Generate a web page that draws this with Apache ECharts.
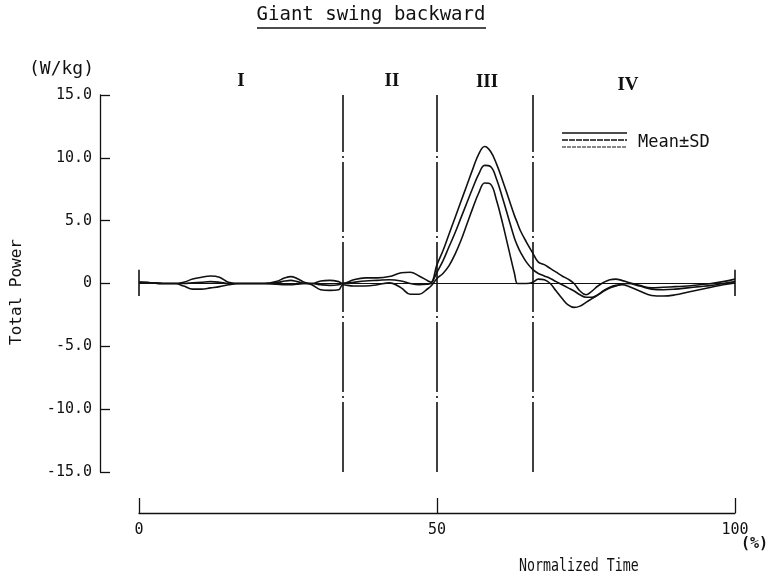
<!DOCTYPE html>
<html>
<head>
<meta charset="utf-8">
<script src="https://cdn.jsdelivr.net/npm/echarts@6/dist/echarts.min.js"></script>
<style>
html,body{margin:0;padding:0;background:#fff;}
#chart{width:784px;height:582px;}
</style>
</head>
<body>
<div id="chart"></div>
<script>
// Normalized time (%)
const timePct = [0,2,4,6,7.5,9,10.5,12,13.5,15,17,19,21,23,24.5,25.5,26.5,28,29,30.5,32,33.5,34.2,
  36,38,40,42,44,45.5,47,48.5,49,
  50,51,52,53,54,55,56,57,58,59,60,61,62,63,63.5,64,65,66.1,
  67,68,69,70,71,72,73,74,75,76,77,78,79,80,81,82,84,86,88,90,92,94,96,98,100];
// Total power (W/kg)
const meanPower = [0.1,0.05,0,0,0,0.05,0.1,0.15,0.1,0,0,0,0,0.05,0.2,0.25,0.15,0,0,-0.1,-0.15,-0.1,0,
  0.1,0.2,0.25,0.3,0.2,0,-0.1,-0.05,0,
  0.9,1.8,2.9,4.0,5.2,6.4,7.6,8.7,9.4,9.3,8.3,6.8,5.2,3.6,3.0,2.5,1.7,1.1,
  0.8,0.6,0.4,0.15,-0.1,-0.35,-0.6,-0.9,-1.1,-1.1,-0.9,-0.6,-0.35,-0.2,-0.05,0,-0.2,-0.45,-0.5,-0.45,-0.35,-0.25,-0.15,0,0.15];
const meanPlusSD = [0.1,0.05,0,0,0.1,0.35,0.5,0.6,0.5,0.1,0,0,0,0.15,0.45,0.55,0.4,0.05,0,0.2,0.25,0.15,0,
  0.3,0.45,0.45,0.55,0.85,0.9,0.6,0.2,0.1,
  1.5,2.6,3.9,5.2,6.5,7.8,9.1,10.3,10.9,10.5,9.5,8.2,6.8,5.4,4.8,4.2,3.3,2.4,
  1.7,1.5,1.2,0.9,0.6,0.35,0,-0.6,-0.9,-0.6,-0.2,0.1,0.3,0.35,0.25,0.1,-0.15,-0.35,-0.3,-0.25,-0.2,-0.1,0,0.15,0.35];
const meanMinusSD = [0.1,0.05,0,0,-0.2,-0.45,-0.45,-0.35,-0.25,-0.1,0,0,0,-0.05,-0.1,-0.1,-0.05,0,-0.1,-0.5,-0.55,-0.5,-0.1,
  -0.2,-0.2,-0.1,0.05,-0.35,-0.85,-0.85,-0.4,-0.2,
  0.4,0.8,1.4,2.3,3.4,4.7,6.0,7.2,8.0,7.9,6.6,4.8,2.8,0.8,0,0,0,0.1,
  0.35,0.3,0,-0.6,-1.2,-1.7,-1.9,-1.8,-1.5,-1.2,-0.9,-0.55,-0.3,-0.15,-0.1,-0.2,-0.6,-0.95,-1.0,-0.9,-0.7,-0.5,-0.3,-0.1,0.05];
// Phase boundaries (%)
const phaseBounds = [34.2, 50, 66.1];
const phaseNames = ['I','II','III','IV'];
// End markers (%)
const endMarks = [0, 100];
const yTicks = [-15,-10,-5,0,5,10,15];
const xTicks = [0,50,100];

const FONT = '"DejaVu Sans Mono", monospace';
const SERIF = '"Liberation Serif", serif';
const chart = echarts.init(document.getElementById('chart'));

function pairs(vals){ return timePct.map((t,i)=>[t, vals[i]]); }

const lineStyle = {color:'#111', width:1.6};
const series = [
  {name:'Mean+SD', type:'line', data:pairs(meanPlusSD), smooth:0.4, symbol:'none', lineStyle, xAxisIndex:0, yAxisIndex:0, z:3},
  {name:'Mean', type:'line', data:pairs(meanPower), smooth:0.4, symbol:'none', lineStyle, xAxisIndex:0, yAxisIndex:0, z:3},
  {name:'Mean-SD', type:'line', data:pairs(meanMinusSD), smooth:0.4, symbol:'none', lineStyle, xAxisIndex:0, yAxisIndex:0, z:3},
  {name:'ref', type:'line', data:[], xAxisIndex:0, yAxisIndex:0, z:2,
    markLine:{silent:true, symbol:'none', label:{show:false},
      data:[
        ...phaseBounds.map(b=>({xAxis:b, lineStyle:{color:'#111', width:1.6, type:[70,4,2,4]}})),
        [{coord:[endMarks[0],0], lineStyle:{color:'#111', width:1, type:'solid'}},{coord:[endMarks[1],0]}],
        ...endMarks.map(m=>[{coord:[m,1.1], lineStyle:{color:'#111', width:1.6, type:'solid'}},{coord:[m,-1.0]}])
      ]}
  }
];

const option = {
  backgroundColor:'#fff',
  animation:false,
  grid:[
    {left:100, right:49, top:95, bottom:110},
    {left:139, right:49, top:498, height:15}
  ],
  xAxis:[
    {type:'value', gridIndex:0, min:-6.54, max:100, show:false},
    {type:'value', gridIndex:1, min:0, max:100, interval:50,
      axisLine:{show:true, onZero:false, lineStyle:{color:'#111', width:1.3}},
      axisTick:{show:true, inside:true, length:15, lineStyle:{color:'#111', width:1.3}},
      axisLabel:{show:true, margin:10, color:'#111', fontFamily:FONT, fontSize:15},
      splitLine:{show:false}}
  ],
  yAxis:[
    {type:'value', gridIndex:0, min:-15, max:15, interval:5,
      axisLine:{show:true, onZero:false, lineStyle:{color:'#111', width:1.3}},
      axisTick:{show:true, inside:true, length:10, lineStyle:{color:'#111', width:1.3}},
      axisLabel:{show:true, margin:8, color:'#111', fontFamily:FONT, fontSize:15,
        formatter:v=> v===0 ? '0' : v.toFixed(1)},
      splitLine:{show:false}},
    {type:'value', gridIndex:1, show:false, min:0, max:1}
  ],
  graphic:[
    {type:'text', x:371, y:6, style:{text:'Giant swing backward', font:'19px '+FONT, fill:'#111', textAlign:'center'}},
    {type:'line', shape:{x1:257, y1:28, x2:486, y2:28}, style:{stroke:'#111', lineWidth:1.3}},
    {type:'text', x:29, y:60, style:{text:'(W/kg)', font:'18px '+FONT, fill:'#111'}},
    {type:'text', x:9, y:345, rotation:Math.PI/2, style:{text:'Total Power', font:'16px '+FONT, fill:'#111'}},
    {type:'text', x:519, y:558, scaleX:0.78, style:{text:'Normalized Time', font:'17px '+FONT, fill:'#111'}},
    {type:'text', x:741, y:537, style:{text:'(%)', font:'bold 15px '+FONT, fill:'#111'}},
    {type:'text', x:241, y:72, style:{text:phaseNames[0], font:'bold 19px '+SERIF, fill:'#111', textAlign:'center'}},
    {type:'text', x:392, y:72, style:{text:phaseNames[1], font:'bold 19px '+SERIF, fill:'#111', textAlign:'center'}},
    {type:'text', x:487, y:73, style:{text:phaseNames[2], font:'bold 19px '+SERIF, fill:'#111', textAlign:'center'}},
    {type:'text', x:628, y:76, style:{text:phaseNames[3], font:'bold 19px '+SERIF, fill:'#111', textAlign:'center'}},
    {type:'line', shape:{x1:562, y1:133, x2:627, y2:133}, style:{stroke:'#111', lineWidth:1.4}},
    {type:'line', shape:{x1:562, y1:140, x2:627, y2:140}, style:{stroke:'#111', lineWidth:1.4, lineDash:[6,1]}},
    {type:'line', shape:{x1:562, y1:147, x2:627, y2:147}, style:{stroke:'#111', lineWidth:1.2, lineDash:[4,1]}},
    {type:'text', x:638, y:134, style:{text:'Mean±SD', font:'17px '+FONT, fill:'#111'}}
  ],
  series
};
chart.setOption(option);
</script>
</body>
</html>
